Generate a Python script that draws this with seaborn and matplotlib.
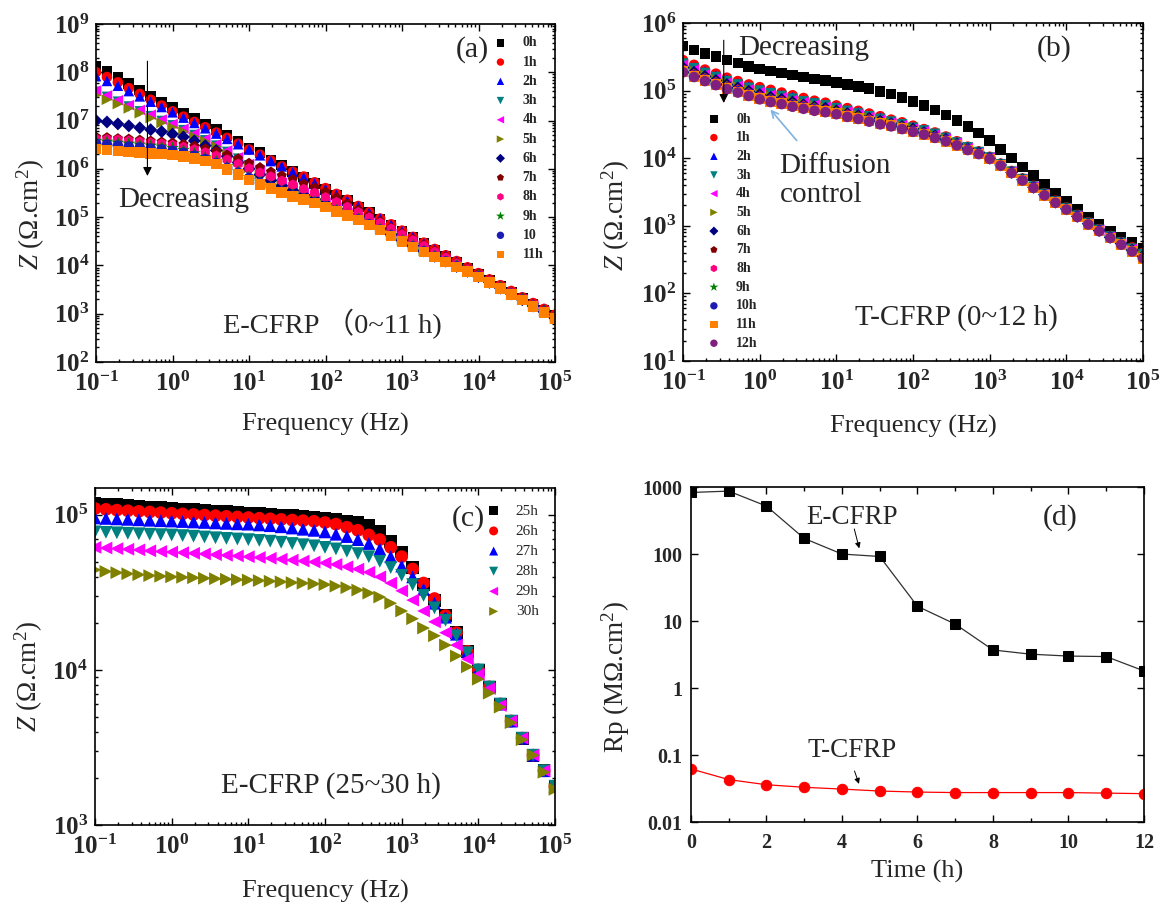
import numpy as np
import pandas as pd
import matplotlib
matplotlib.use("Agg")
import matplotlib.pyplot as plt
import seaborn as sns
from matplotlib.ticker import FuncFormatter, NullFormatter, FixedLocator, MultipleLocator

# ---------------- data ----------------
freq = [0.1, 0.139, 0.193, 0.268, 0.373, 0.518, 0.72,
        1, 1.39, 1.93, 2.68, 3.73, 5.18, 7.2,
        10, 13.9, 19.3, 26.8, 37.3, 51.8, 72,
        100, 139, 193, 268, 373, 518, 720,
        1000, 1390, 1930, 2680, 3730, 5180, 7200,
        1e4, 1.39e4, 1.93e4, 2.68e4, 3.73e4, 5.18e4, 7.2e4, 1e5]

# panel (a): log10 |Z| of E-CFRP, 0-11 h
a_0h = [8.12, 8.02, 7.89, 7.77, 7.63, 7.51, 7.38, 7.27, 7.14, 7.04, 6.93, 6.81, 6.69, 6.58, 6.42, 6.34, 6.18, 6.08, 5.94, 5.83, 5.70,
        5.57, 5.46, 5.34, 5.21, 5.09, 4.96, 4.83, 4.70, 4.58, 4.45, 4.32, 4.19, 4.07, 3.94, 3.82, 3.69, 3.57, 3.45, 3.32, 3.20, 3.08, 2.96]
a_1h = [8.00, 7.90, 7.79, 7.67, 7.55, 7.43, 7.31, 7.19, 7.08, 6.97, 6.86, 6.75, 6.64, 6.52, 6.40, 6.29, 6.17, 6.05, 5.94, 5.84, 5.72,
        5.60, 5.48, 5.36, 5.23, 5.10, 4.97, 4.85, 4.72, 4.59, 4.47, 4.34, 4.21, 4.09, 3.96, 3.84, 3.71, 3.59, 3.47, 3.34, 3.22, 3.10, 2.98]
a_2h = [7.92, 7.82, 7.72, 7.61, 7.50, 7.39, 7.28, 7.17, 7.06, 6.95, 6.84, 6.73, 6.62, 6.51, 6.40, 6.28, 6.16, 6.05, 5.93, 5.82, 5.70,
        5.58, 5.46, 5.34, 5.22, 5.09, 4.97, 4.84, 4.71, 4.59, 4.46, 4.33, 4.21, 4.08, 3.96, 3.83, 3.71, 3.58, 3.46, 3.34, 3.21, 3.09, 2.97]
a_3h = [7.59, 7.49, 7.39, 7.29, 7.19, 7.09, 6.99, 6.90, 6.80, 6.70, 6.59, 6.48, 6.35, 6.21, 6.07, 5.93, 5.80, 5.68, 5.57, 5.47, 5.37,
        5.27, 5.17, 5.06, 4.96, 4.85, 4.74, 4.62, 4.50, 4.39, 4.28, 4.17, 4.07, 3.96, 3.86, 3.75, 3.63, 3.51, 3.39, 3.27, 3.14, 3.02, 2.91]
a_4h = [7.62, 7.52, 7.42, 7.32, 7.22, 7.12, 7.02, 6.93, 6.83, 6.73, 6.62, 6.51, 6.38, 6.24, 6.10, 5.96, 5.83, 5.71, 5.60, 5.50, 5.40,
        5.30, 5.20, 5.09, 4.99, 4.88, 4.77, 4.65, 4.53, 4.42, 4.31, 4.20, 4.10, 3.99, 3.89, 3.78, 3.66, 3.54, 3.42, 3.30, 3.17, 3.05, 2.92]
a_5h = [7.52, 7.43, 7.34, 7.25, 7.15, 7.05, 6.95, 6.86, 6.77, 6.67, 6.57, 6.46, 6.30, 6.16, 6.02, 5.89, 5.77, 5.66, 5.56, 5.47, 5.38,
        5.29, 5.19, 5.09, 4.98, 4.87, 4.76, 4.64, 4.52, 4.41, 4.30, 4.19, 4.09, 3.98, 3.88, 3.77, 3.65, 3.53, 3.41, 3.29, 3.16, 3.04, 2.91]
a_6h = [7.00, 6.97, 6.93, 6.89, 6.85, 6.81, 6.77, 6.72, 6.66, 6.58, 6.48, 6.38, 6.26, 6.13, 6.00, 5.88, 5.76, 5.65, 5.55, 5.46, 5.37,
        5.28, 5.18, 5.08, 4.98, 4.87, 4.76, 4.64, 4.52, 4.41, 4.30, 4.19, 4.09, 3.98, 3.88, 3.77, 3.65, 3.53, 3.41, 3.29, 3.16, 3.04, 2.91]
a_7h = [6.66, 6.65, 6.63, 6.62, 6.60, 6.58, 6.56, 6.54, 6.51, 6.47, 6.42, 6.36, 6.29, 6.21, 6.12, 6.03, 5.94, 5.86, 5.78, 5.69, 5.61,
        5.52, 5.40, 5.28, 5.15, 5.03, 4.91, 4.78, 4.66, 4.54, 4.42, 4.30, 4.18, 4.06, 3.94, 3.82, 3.70, 3.57, 3.45, 3.32, 3.19, 3.06, 2.93]
a_8h = [6.62, 6.61, 6.60, 6.58, 6.56, 6.54, 6.52, 6.49, 6.45, 6.40, 6.34, 6.27, 6.19, 6.10, 6.01, 5.92, 5.84, 5.75, 5.67, 5.58, 5.50,
        5.41, 5.31, 5.21, 5.10, 4.99, 4.88, 4.76, 4.64, 4.52, 4.40, 4.28, 4.16, 4.04, 3.92, 3.80, 3.68, 3.56, 3.44, 3.31, 3.18, 3.05, 2.93]
a_9h = [6.58, 6.56, 6.54, 6.52, 6.50, 6.48, 6.46, 6.43, 6.39, 6.32, 6.24, 6.15, 6.05, 5.94, 5.83, 5.73, 5.63, 5.54, 5.46, 5.39, 5.31,
        5.23, 5.14, 5.05, 4.96, 4.86, 4.75, 4.63, 4.52, 4.41, 4.30, 4.19, 4.09, 3.99, 3.89, 3.78, 3.66, 3.54, 3.42, 3.30, 3.17, 3.05, 2.92]
a_10 = [6.52, 6.50, 6.48, 6.46, 6.44, 6.42, 6.40, 6.37, 6.33, 6.27, 6.20, 6.12, 6.02, 5.92, 5.81, 5.71, 5.62, 5.53, 5.45, 5.38, 5.30,
        5.22, 5.13, 5.04, 4.95, 4.85, 4.74, 4.62, 4.50, 4.39, 4.29, 4.18, 4.08, 3.98, 3.88, 3.77, 3.65, 3.53, 3.41, 3.29, 3.16, 3.04, 2.91]
a_11h = [6.41, 6.39, 6.37, 6.35, 6.34, 6.32, 6.31, 6.29, 6.25, 6.21, 6.16, 6.10, 5.99, 5.88, 5.77, 5.68, 5.59, 5.51, 5.43, 5.36, 5.29,
         5.21, 5.12, 5.03, 4.94, 4.84, 4.73, 4.61, 4.49, 4.38, 4.28, 4.17, 4.07, 3.97, 3.87, 3.76, 3.64, 3.52, 3.40, 3.28, 3.15, 3.03, 2.90]
a_labels = ["0h", "1h", "2h", "3h", "4h", "5h", "6h", "7h", "8h", "9h", "10", "11h"]

# panel (b): log10 |Z| of T-CFRP, 0-12 h
b_0h = [5.66, 5.60, 5.55, 5.50, 5.45, 5.41, 5.36, 5.32, 5.29, 5.26, 5.23, 5.20, 5.17, 5.15, 5.12, 5.09, 5.06, 5.03, 4.99, 4.95, 4.90,
        4.84, 4.78, 4.71, 4.64, 4.56, 4.47, 4.37, 4.26, 4.13, 4.00, 3.87, 3.74, 3.61, 3.48, 3.36, 3.24, 3.13, 3.02, 2.92, 2.83, 2.75, 2.67]
b_1h = [5.45, 5.38, 5.31, 5.25, 5.19, 5.14, 5.09, 5.05, 5.01, 4.97, 4.93, 4.89, 4.85, 4.82, 4.78, 4.74, 4.70, 4.66, 4.62, 4.57, 4.53,
        4.48, 4.43, 4.38, 4.32, 4.25, 4.17, 4.10, 4.02, 3.92, 3.81, 3.70, 3.59, 3.48, 3.37, 3.27, 3.16, 3.05, 2.95, 2.85, 2.76, 2.68, 2.60]
b_2h = [5.41, 5.34, 5.28, 5.22, 5.16, 5.11, 5.06, 5.01, 4.97, 4.94, 4.90, 4.86, 4.82, 4.79, 4.75, 4.71, 4.68, 4.64, 4.60, 4.55, 4.51,
        4.46, 4.41, 4.36, 4.31, 4.24, 4.16, 4.09, 4.01, 3.91, 3.80, 3.69, 3.58, 3.47, 3.36, 3.26, 3.15, 3.04, 2.94, 2.84, 2.75, 2.67, 2.58]
b_3h = [5.40, 5.33, 5.26, 5.20, 5.14, 5.09, 5.04, 5.00, 4.96, 4.92, 4.88, 4.84, 4.81, 4.78, 4.74, 4.70, 4.66, 4.62, 4.58, 4.54, 4.50,
        4.45, 4.41, 4.36, 4.30, 4.23, 4.16, 4.09, 4.01, 3.91, 3.80, 3.69, 3.58, 3.47, 3.36, 3.26, 3.15, 3.04, 2.94, 2.84, 2.75, 2.66, 2.58]
b_4h = [5.38, 5.31, 5.24, 5.18, 5.12, 5.07, 5.02, 4.98, 4.94, 4.90, 4.86, 4.83, 4.79, 4.76, 4.73, 4.69, 4.65, 4.61, 4.57, 4.53, 4.49,
        4.44, 4.40, 4.35, 4.29, 4.23, 4.15, 4.08, 4.01, 3.91, 3.80, 3.69, 3.58, 3.47, 3.36, 3.26, 3.15, 3.04, 2.94, 2.84, 2.74, 2.66, 2.57]
b_5h = [5.36, 5.29, 5.23, 5.17, 5.11, 5.06, 5.01, 4.96, 4.92, 4.89, 4.85, 4.81, 4.78, 4.75, 4.72, 4.68, 4.64, 4.60, 4.56, 4.52, 4.48,
        4.44, 4.39, 4.34, 4.29, 4.22, 4.15, 4.08, 4.01, 3.91, 3.80, 3.69, 3.57, 3.46, 3.35, 3.25, 3.14, 3.03, 2.93, 2.83, 2.74, 2.65, 2.56]
b_6h = [5.34, 5.27, 5.21, 5.15, 5.09, 5.04, 4.99, 4.94, 4.90, 4.87, 4.83, 4.79, 4.76, 4.74, 4.70, 4.66, 4.63, 4.59, 4.55, 4.51, 4.47,
        4.43, 4.38, 4.33, 4.28, 4.21, 4.14, 4.08, 4.00, 3.90, 3.79, 3.68, 3.57, 3.46, 3.35, 3.25, 3.14, 3.03, 2.93, 2.83, 2.74, 2.64, 2.55]
b_7h = [5.32, 5.25, 5.19, 5.13, 5.07, 5.02, 4.97, 4.92, 4.88, 4.85, 4.81, 4.78, 4.75, 4.72, 4.69, 4.65, 4.62, 4.58, 4.54, 4.50, 4.46,
        4.42, 4.37, 4.32, 4.27, 4.21, 4.14, 4.07, 4.00, 3.90, 3.79, 3.68, 3.57, 3.46, 3.35, 3.25, 3.14, 3.03, 2.93, 2.83, 2.73, 2.64, 2.54]
b_8h = [5.31, 5.24, 5.18, 5.12, 5.06, 5.01, 4.96, 4.91, 4.87, 4.84, 4.80, 4.77, 4.74, 4.71, 4.68, 4.64, 4.61, 4.57, 4.53, 4.50, 4.46,
        4.41, 4.37, 4.32, 4.27, 4.21, 4.14, 4.07, 4.00, 3.90, 3.79, 3.68, 3.57, 3.46, 3.35, 3.25, 3.14, 3.03, 2.93, 2.83, 2.73, 2.63, 2.54]
b_9h = [5.30, 5.23, 5.17, 5.11, 5.05, 5.00, 4.95, 4.90, 4.86, 4.83, 4.79, 4.76, 4.73, 4.70, 4.67, 4.63, 4.60, 4.56, 4.52, 4.49, 4.45,
        4.40, 4.36, 4.31, 4.26, 4.20, 4.13, 4.07, 4.00, 3.90, 3.79, 3.68, 3.57, 3.46, 3.35, 3.25, 3.14, 3.03, 2.93, 2.83, 2.73, 2.63, 2.53]
b_10h = [5.29, 5.22, 5.16, 5.10, 5.04, 4.99, 4.94, 4.89, 4.85, 4.82, 4.78, 4.75, 4.72, 4.69, 4.66, 4.62, 4.59, 4.55, 4.51, 4.48, 4.44,
         4.40, 4.36, 4.31, 4.26, 4.20, 4.13, 4.07, 4.00, 3.90, 3.79, 3.68, 3.57, 3.46, 3.35, 3.25, 3.14, 3.03, 2.93, 2.83, 2.73, 2.63, 2.53]
b_11h = [5.28, 5.21, 5.15, 5.09, 5.03, 4.98, 4.93, 4.88, 4.84, 4.81, 4.77, 4.74, 4.71, 4.69, 4.66, 4.62, 4.59, 4.55, 4.51, 4.48, 4.44,
         4.39, 4.35, 4.30, 4.25, 4.19, 4.12, 4.06, 3.99, 3.89, 3.78, 3.67, 3.56, 3.45, 3.34, 3.24, 3.13, 3.02, 2.92, 2.82, 2.72, 2.62, 2.52]
b_12h = [5.27, 5.20, 5.14, 5.08, 5.02, 4.97, 4.92, 4.87, 4.83, 4.80, 4.76, 4.73, 4.70, 4.68, 4.65, 4.61, 4.58, 4.54, 4.50, 4.47, 4.43,
         4.39, 4.35, 4.30, 4.25, 4.19, 4.12, 4.06, 3.99, 3.89, 3.78, 3.67, 3.56, 3.45, 3.34, 3.24, 3.13, 3.02, 2.92, 2.82, 2.72, 2.62, 2.52]
b_labels = ["0h", "1h", "2h", "3h", "4h", "5h", "6h", "7h", "8h", "9h", "10h", "11h", "12h"]

# panel (c): log10 |Z| of E-CFRP, 25-30 h
c_25h = [5.075, 5.07, 5.065, 5.06, 5.055, 5.05, 5.045, 5.04, 5.036, 5.032, 5.028, 5.024, 5.02, 5.015, 5.01, 5.006, 5.002, 4.998,
         4.994, 4.99, 4.985, 4.98, 4.97, 4.96, 4.95, 4.93, 4.89, 4.83, 4.76, 4.66, 4.55, 4.45, 4.35, 4.24, 4.12, 4.00, 3.89, 3.78,
         3.67, 3.56, 3.45, 3.35, 3.25]
c_26h = [5.04, 5.035, 5.03, 5.026, 5.022, 5.018, 5.014, 5.01, 5.006, 5.002, 4.998, 4.994, 4.99, 4.986, 4.982, 4.978, 4.974, 4.97,
         4.966, 4.962, 4.958, 4.95, 4.94, 4.92, 4.90, 4.87, 4.84, 4.79, 4.73, 4.65, 4.56, 4.46, 4.35, 4.24, 4.12, 4.00, 3.89, 3.78,
         3.67, 3.56, 3.45, 3.35, 3.25]
c_27h = [4.98, 4.977, 4.974, 4.971, 4.968, 4.965, 4.962, 4.96, 4.957, 4.954, 4.951, 4.948, 4.945, 4.942, 4.94, 4.935, 4.93, 4.923,
         4.915, 4.907, 4.90, 4.89, 4.875, 4.86, 4.84, 4.815, 4.78, 4.73, 4.67, 4.60, 4.52, 4.43, 4.34, 4.23, 4.12, 4.00, 3.89, 3.78,
         3.67, 3.56, 3.45, 3.35, 3.25]
c_28h = [4.89, 4.887, 4.884, 4.881, 4.878, 4.875, 4.872, 4.87, 4.866, 4.862, 4.857, 4.852, 4.848, 4.844, 4.84, 4.835, 4.83, 4.823,
         4.815, 4.807, 4.80, 4.79, 4.78, 4.765, 4.75, 4.73, 4.70, 4.66, 4.61, 4.55, 4.48, 4.40, 4.32, 4.22, 4.11, 4.00, 3.89, 3.78,
         3.67, 3.56, 3.45, 3.35, 3.25]
c_29h = [4.79, 4.786, 4.782, 4.778, 4.774, 4.768, 4.764, 4.76, 4.756, 4.752, 4.748, 4.743, 4.739, 4.735, 4.73, 4.725, 4.72, 4.714,
         4.708, 4.702, 4.696, 4.69, 4.68, 4.665, 4.65, 4.63, 4.60, 4.56, 4.51, 4.45, 4.38, 4.31, 4.24, 4.16, 4.07, 3.97, 3.88, 3.77,
         3.67, 3.56, 3.45, 3.35, 3.24]
c_30h = [4.645, 4.635, 4.627, 4.62, 4.614, 4.608, 4.604, 4.60, 4.597, 4.594, 4.591, 4.588, 4.585, 4.582, 4.58, 4.576, 4.572, 4.568,
         4.563, 4.559, 4.555, 4.55, 4.54, 4.53, 4.515, 4.495, 4.47, 4.43, 4.38, 4.33, 4.27, 4.22, 4.16, 4.09, 4.02, 3.94, 3.85, 3.76,
         3.66, 3.55, 3.45, 3.34, 3.23]
c_labels = ["25h", "26h", "27h", "28h", "29h", "30h"]

# panel (d): Rp vs time
time_h = [0, 1, 2, 3, 4, 5, 6, 7, 8, 9, 10, 11, 12]
rp_e = [830, 870, 520, 171, 100, 92, 16.6, 9.0, 3.7, 3.2, 3.0, 2.95, 1.8]
rp_t = [0.062, 0.043, 0.036, 0.033, 0.031, 0.029, 0.028, 0.0275, 0.0275, 0.0275, 0.0275, 0.027, 0.0265]
d_ticklabels = ["0.01", "0.1", "1", "10", "100", "1000"]

# ---------------- style ----------------
sns.set_theme(style="ticks")
plt.rcParams["font.family"] = ["Liberation Serif", "Noto Sans CJK SC", "DejaVu Sans"]
plt.rcParams["mathtext.fontset"] = "custom"
plt.rcParams["mathtext.rm"] = "Liberation Serif"
plt.rcParams["mathtext.it"] = "Liberation Serif:italic"
plt.rcParams["mathtext.bf"] = "Liberation Serif:bold"
plt.rcParams["axes.unicode_minus"] = True

markers = ["s", "o", "^", "v", "<", ">", "D", "p", "h", "*", "o", "s", "o"]
colors = ["#000000", "#FF0000", "#0000FF", "#008080", "#FF00FF", "#808000", "#000080",
          "#800000", "#FF0080", "#008000", "#1C1CB4", "#FF8000", "#7F1F7F"]

TXT = 21      # annotation text size
LAB = 19      # axis label size
TICK = 18     # tick label size

fig = plt.figure(figsize=(11.64, 9.07), dpi=100)
ax_a = fig.add_axes([0.0825, 0.6009, 0.3943, 0.3727])
ax_b = fig.add_axes([0.5868, 0.6020, 0.3952, 0.3727])
ax_c = fig.add_axes([0.0816, 0.0904, 0.3952, 0.3716])
ax_d = fig.add_axes([0.5936, 0.0937, 0.3892, 0.3693])

pow_fmt = FuncFormatter(lambda v, p: r"$\mathbf{10^{%d}}$" % int(round(np.log10(v))))


def decade_ticks(lo_exp, hi_exp, lo_val, hi_val):
    major = [10.0 ** e for e in range(lo_exp, hi_exp + 1)]
    minor = [m * 10.0 ** e for e in range(lo_exp - 1, hi_exp + 1) for m in range(2, 10)
             if lo_val <= m * 10.0 ** e <= hi_val]
    return major, minor


def style_axes(ax, ylim, y_exps):
    ax.set_xscale("log")
    ax.set_yscale("log")
    ax.set_xlim(0.1, 1e5)
    ax.set_ylim(*ylim)
    xmaj, xmin = decade_ticks(-1, 5, 0.1, 1e5)
    ymaj, ymin = decade_ticks(y_exps[0], y_exps[1], ylim[0], ylim[1])
    ax.xaxis.set_major_locator(FixedLocator(xmaj))
    ax.xaxis.set_minor_locator(FixedLocator(xmin))
    ax.yaxis.set_major_locator(FixedLocator(ymaj))
    ax.yaxis.set_minor_locator(FixedLocator(ymin))
    for axis in (ax.xaxis, ax.yaxis):
        axis.set_major_formatter(pow_fmt)
        axis.set_minor_formatter(NullFormatter())
    ax.tick_params(which="both", direction="in", top=True, right=True, width=1.0, color="black")
    ax.tick_params(which="major", length=5, labelsize=TICK)
    ax.tick_params(axis="x", which="major", pad=7)
    ax.tick_params(axis="y", which="major", pad=5)
    ax.tick_params(which="minor", length=2.5)
    for s in ax.spines.values():
        s.set_linewidth(1.2)
        s.set_color("black")
    ax.grid(False)


def draw_panel(ax, series, labels, size):
    rows = []
    for name, vals in zip(labels, series):
        for f, v in zip(freq, vals):
            rows.append((name, f, 10 ** v))
    df = pd.DataFrame(rows, columns=["series", "freq", "Z"])
    for k, name in enumerate(labels):
        sub = df[df["series"] == name]
        m = markers[k]
        s = size * (1.6 if m == "*" else (0.75 if m == "D" else 1.0))
        sns.scatterplot(data=sub, x="freq", y="Z", marker=m, color=colors[k], s=s,
                        edgecolor="none", linewidth=0, ax=ax, label=name, legend=False)


zlabel = r"$\mathit{Z}$ ($\Omega$.cm$^2$)"

# ---------- (a) ----------
draw_panel(ax_a, [a_0h, a_1h, a_2h, a_3h, a_4h, a_5h, a_6h, a_7h, a_8h, a_9h, a_10, a_11h], a_labels, 58)
style_axes(ax_a, (1e2, 1e9), (2, 9))
ax_a.set_xlabel("Frequency (Hz)", fontsize=LAB)
ax_a.set_ylabel(zlabel, fontsize=LAB + 0.5)
ax_a.xaxis.set_label_coords(0.5, -0.15)
ax_a.yaxis.set_label_coords(-0.107, 0.435)
hs, ls = ax_a.get_legend_handles_labels()
ax_a.legend(hs, ls, loc="upper left", bbox_to_anchor=(0.866, 0.963), frameon=False,
            prop={"weight": "bold", "size": 10}, handlelength=1.0, handletextpad=1.1,
            labelspacing=0.45, borderpad=0, borderaxespad=0, markerscale=0.7, scatterpoints=1)
ax_a.text(0.82, 0.925, "(a)", transform=ax_a.transAxes, ha="center", va="center", fontsize=21.5)
ax_a.text(0.192, 0.48, "Decreasing", transform=ax_a.transAxes, ha="center", va="center", fontsize=TXT)
ax_a.annotate("", xy=(0.112, 0.542), xytext=(0.112, 0.898), xycoords="axes fraction",
              arrowprops=dict(arrowstyle="-|>", color="black", lw=0.8, mutation_scale=13))
ax_a.text(0.516, 0.113, "E-CFRP （0~11 h)", transform=ax_a.transAxes, ha="center", va="center", fontsize=20.5)

# ---------- (b) ----------
draw_panel(ax_b, [b_0h, b_1h, b_2h, b_3h, b_4h, b_5h, b_6h, b_7h, b_8h, b_9h, b_10h, b_11h, b_12h], b_labels, 58)
style_axes(ax_b, (1e1, 1e6), (1, 6))
ax_b.set_xlabel("Frequency (Hz)", fontsize=LAB)
ax_b.set_ylabel(zlabel, fontsize=LAB + 0.5)
ax_b.xaxis.set_label_coords(0.5, -0.16)
ax_b.yaxis.set_label_coords(-0.112, 0.432)
hs, ls = ax_b.get_legend_handles_labels()
ax_b.legend(hs, ls, loc="upper left", bbox_to_anchor=(0.052, 0.735), frameon=False,
            prop={"weight": "bold", "size": 10}, handlelength=1.0, handletextpad=1.1,
            labelspacing=0.41, borderpad=0, borderaxespad=0, markerscale=0.7, scatterpoints=1)
ax_b.text(0.263, 0.925, "Decreasing", transform=ax_b.transAxes, ha="center", va="center", fontsize=TXT)
ax_b.text(0.807, 0.925, "(b)", transform=ax_b.transAxes, ha="center", va="center", fontsize=21.5)
ax_b.annotate("", xy=(0.0885, 0.755), xytext=(0.0885, 0.957), xycoords="axes fraction",
              arrowprops=dict(arrowstyle="-|>", color="black", lw=0.8, mutation_scale=13))
ax_b.text(0.21, 0.535, "Diffusion\ncontrol", transform=ax_b.transAxes, ha="left", va="center",
          fontsize=TXT, linespacing=1.15)
ax_b.annotate("", xy=(0.186, 0.75), xytext=(0.251, 0.646), xycoords="axes fraction",
              arrowprops=dict(arrowstyle="->", color="#7FB2DF", lw=1.2, mutation_scale=12))
ax_b.text(0.595, 0.128, "T-CFRP (0~12 h)", transform=ax_b.transAxes, ha="center", va="center", fontsize=TXT)

# ---------- (c) ----------
draw_panel(ax_c, [c_25h, c_26h, c_27h, c_28h, c_29h, c_30h], c_labels, 85)
style_axes(ax_c, (1e3, 1.49e5), (3, 5))
ax_c.set_xlabel("Frequency (Hz)", fontsize=LAB)
ax_c.set_ylabel(zlabel, fontsize=LAB + 0.5)
ax_c.xaxis.set_label_coords(0.5, -0.163)
ax_c.yaxis.set_label_coords(-0.109, 0.44)
hs, ls = ax_c.get_legend_handles_labels()
ax_c.legend(hs, ls, loc="upper left", bbox_to_anchor=(0.850, 0.952), frameon=False,
            prop={"size": 11}, handlelength=1.0, handletextpad=0.95,
            labelspacing=0.42, borderpad=0, borderaxespad=0, markerscale=0.7, scatterpoints=1)
ax_c.text(0.811, 0.91, "(c)", transform=ax_c.transAxes, ha="center", va="center", fontsize=21.5)
ax_c.text(0.513, 0.118, "E-CFRP (25~30 h)", transform=ax_c.transAxes, ha="center", va="center", fontsize=TXT)

# ---------- (d) ----------
df_d = pd.DataFrame({"time": time_h + time_h, "rp": rp_e + rp_t,
                     "sample": ["E-CFRP"] * len(time_h) + ["T-CFRP"] * len(time_h)})
sns.lineplot(data=df_d[df_d["sample"] == "E-CFRP"], x="time", y="rp", ax=ax_d, color="#303030",
             lw=0.9, marker="s", markersize=7.5, markerfacecolor="black", markeredgecolor="black", legend=False)
sns.lineplot(data=df_d[df_d["sample"] == "T-CFRP"], x="time", y="rp", ax=ax_d, color="#FF0000",
             lw=0.9, marker="o", markersize=7.5, markerfacecolor="#FF0000", markeredgecolor="#FF0000", legend=False)
ax_d.set_yscale("log")
ax_d.set_xlim(0, 12)
ax_d.set_ylim(0.01, 1000)
ax_d.yaxis.set_major_locator(FixedLocator([0.01, 0.1, 1, 10, 100, 1000]))
ax_d.yaxis.set_minor_locator(FixedLocator([]))
ax_d.set_yticklabels(d_ticklabels, fontweight="bold")
ax_d.xaxis.set_major_locator(FixedLocator([0, 2, 4, 6, 8, 10, 12]))
ax_d.xaxis.set_minor_locator(FixedLocator([1, 3, 5, 7, 9, 11]))
ax_d.set_xticklabels(["0", "2", "4", "6", "8", "10", "12"], fontweight="bold")
ax_d.tick_params(which="both", direction="in", top=True, right=True, width=1.0, color="black")
ax_d.tick_params(which="major", length=5, labelsize=14.5)
ax_d.tick_params(axis="x", which="major", pad=8)
ax_d.tick_params(axis="y", which="major", pad=6)
ax_d.tick_params(which="minor", length=3)
for s in ax_d.spines.values():
    s.set_linewidth(1.2)
    s.set_color("black")
ax_d.grid(False)
ax_d.set_xlabel("Time (h)", fontsize=LAB)
ax_d.set_ylabel(r"Rp (M$\Omega$.cm$^2$)", fontsize=LAB + 0.5)
ax_d.xaxis.set_label_coords(0.5, -0.113)
ax_d.yaxis.set_label_coords(-0.130, 0.433)
ax_d.text(0.816, 0.909, "(d)", transform=ax_d.transAxes, ha="center", va="center", fontsize=21.5)
ax_d.text(0.355, 0.909, "E-CFRP", transform=ax_d.transAxes, ha="center", va="center", fontsize=19.5)
ax_d.annotate("", xy=(0.373, 0.809), xytext=(0.359, 0.883), xycoords="axes fraction",
              arrowprops=dict(arrowstyle="-|>", color="black", lw=0.7, mutation_scale=8))
ax_d.text(0.355, 0.2135, "T-CFRP", transform=ax_d.transAxes, ha="center", va="center", fontsize=19.5)
ax_d.annotate("", xy=(0.373, 0.106), xytext=(0.359, 0.160), xycoords="axes fraction",
              arrowprops=dict(arrowstyle="-|>", color="black", lw=0.7, mutation_scale=8))

fig.savefig("out.png", dpi=100)
